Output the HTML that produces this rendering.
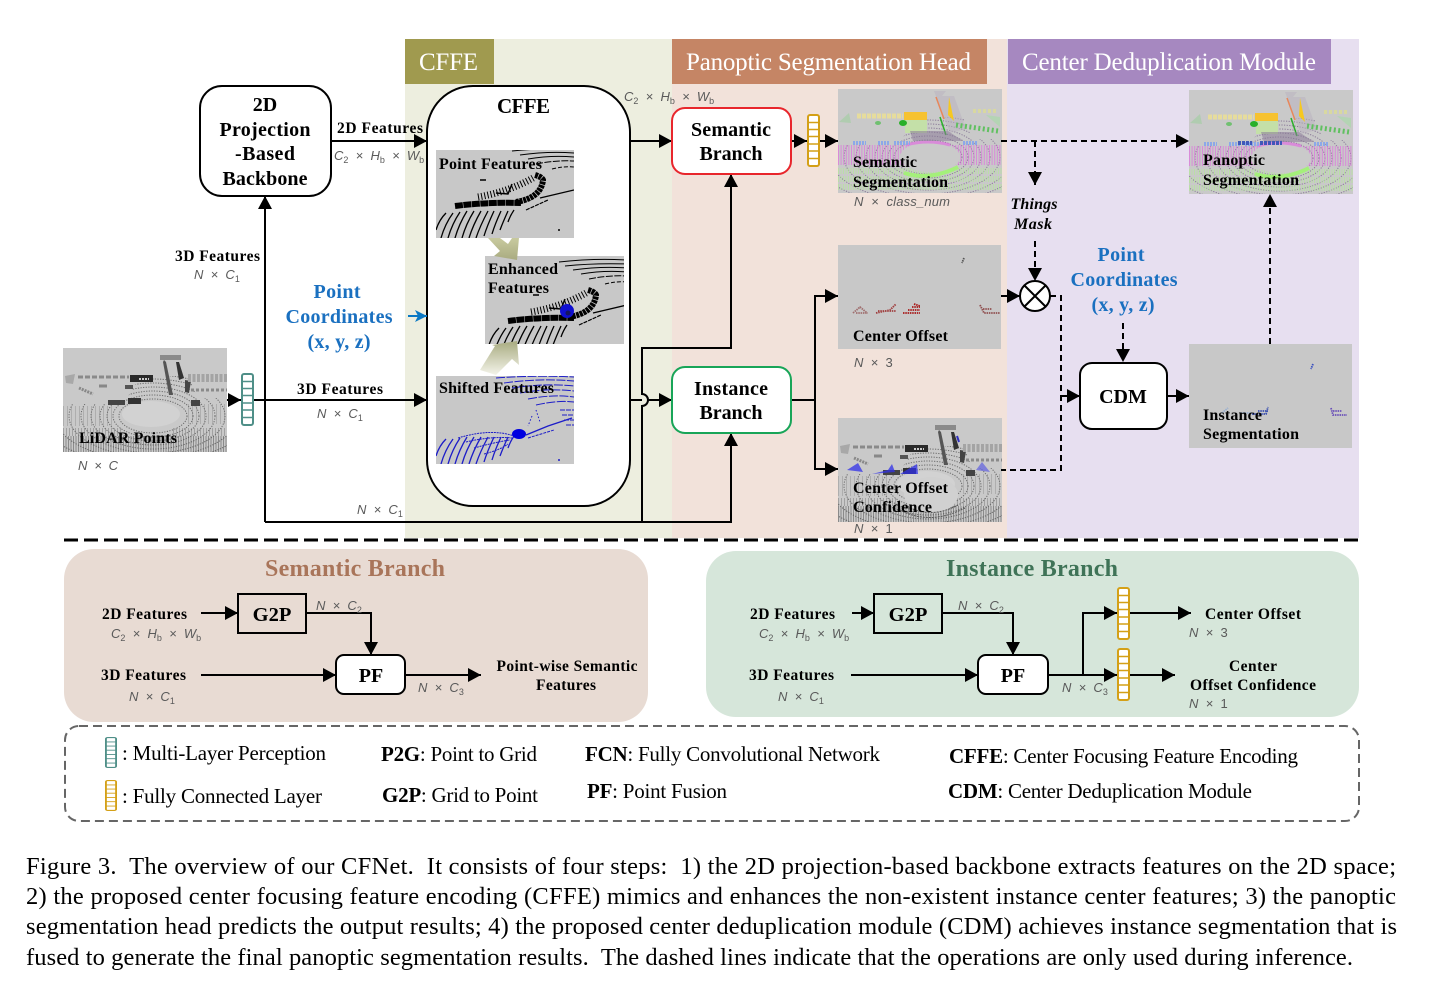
<!DOCTYPE html>
<html><head><meta charset="utf-8"><style>
html,body{margin:0;padding:0;background:#fff}
svg{display:block}
symbol{overflow:visible}
text{font-family:"Liberation Serif",serif;fill:#000}
.b{font-weight:bold}
.m{font-family:"Liberation Sans",sans-serif;font-style:italic;font-size:13px;fill:#5a5a5a}
.s{font-size:9px;font-style:normal}
.u{font-style:normal}
.l{stroke:#000;stroke-width:2;fill:none}
.d{stroke:#000;stroke-width:2;fill:none;stroke-dasharray:6 4}
.a{marker-end:url(#ar)}
.h{fill:#fff;font-size:25px}
.lg{font-size:21px}
.cap{font-size:24.5px}
.bl{font-weight:bold;font-size:20px;fill:#1a70c0}
</style></head><body>
<svg width="1441" height="1008" viewBox="0 0 1441 1008" xmlns="http://www.w3.org/2000/svg">
<defs>
<marker id="ar" markerUnits="userSpaceOnUse" markerWidth="15" markerHeight="15" refX="14" refY="7.5" orient="auto"><path d="M1,0.5L14,7.5L1,14.5Z" fill="#000"/></marker>
<marker id="ab" markerUnits="userSpaceOnUse" markerWidth="14" markerHeight="14" refX="13" refY="7" orient="auto"><path d="M1,1L13,7L1,13L4,7Z" fill="#0a78c4"/></marker>
<linearGradient id="gd" x1="0" y1="0" x2="0" y2="1"><stop offset="0" stop-color="#c8ca9f"/><stop offset="1" stop-color="#a9ab80"/></linearGradient>
<linearGradient id="gu" x1="0" y1="0" x2="0" y2="1"><stop offset="0" stop-color="#a8ab80"/><stop offset="1" stop-color="#f4f4ea"/></linearGradient>
<clipPath id="lc"><path d="M0,56H60L78,28H125L135,50H164V104H0Z"/></clipPath>
<symbol id="rings" viewBox="0 0 164 104" width="164" height="104">
<g clip-path="url(#lc)" fill="none" stroke="currentColor" stroke-width="1" stroke-dasharray="1.2 1.4">
<ellipse cx="90" cy="68" rx="34" ry="17"/><ellipse cx="90" cy="68" rx="40" ry="21"/><ellipse cx="90" cy="68" rx="46" ry="25"/><ellipse cx="90" cy="68" rx="53" ry="29"/><ellipse cx="90" cy="68" rx="62" ry="33"/><ellipse cx="90" cy="68" rx="72" ry="37"/><ellipse cx="90" cy="68" rx="84" ry="41"/><ellipse cx="90" cy="68" rx="98" ry="45"/><ellipse cx="90" cy="68" rx="114" ry="49"/><ellipse cx="90" cy="68" rx="132" ry="53"/>
</g>
</symbol>
<symbol id="lidar" viewBox="0 0 164 104" width="164" height="104">
<rect width="164" height="104" fill="#c9c9c9"/>
<use href="#rings" color="#6a6a6a"/>
<path d="M0,96H164" stroke="#555" stroke-width="16" stroke-dasharray="1 1.5" opacity=".55" fill="none"/>
<path d="M0,84H60M110,84H164" stroke="#666" stroke-width="8" stroke-dasharray="1 2" opacity=".4" fill="none"/>
<path d="M0,68H50M125,66H164" stroke="#7a7a7a" stroke-width="20" stroke-dasharray="1 3" opacity=".35" fill="none"/>
<ellipse cx="88" cy="66" rx="29" ry="13" fill="#d2d2d2"/>
<path d="M2,28L12,26L10,36L3,35Z" fill="#a8a8a8"/>
<path d="M15,29H66" stroke="#8a8a8a" stroke-width="3" stroke-dasharray="5 2" fill="none"/>
<path d="M67,27H90V34H67Z" fill="#2a2a2a"/><path d="M76,31H86" stroke="#ccc" stroke-width="2" stroke-dasharray="2 1"/>
<path d="M97,7H118V12H97Z" fill="#8a8a8a"/>
<path d="M101,12L103,14L110,47L106,47L100,14Z" fill="#555"/>
<path d="M113,14L116,14L121,30L116,32Z" fill="#333"/>
<path d="M122,32L128,33L126,45L122,44Z" fill="#444"/>
<path d="M125,30H164" stroke="#a4a4a4" stroke-width="8" stroke-dasharray="3 1.5" fill="none"/>
<path d="M128,42H164" stroke="#8a8a8a" stroke-width="3" stroke-dasharray="3 2" fill="none"/>
<path d="M62,37H70V41H62Z" fill="#555"/><path d="M45,52H62V57H45Z" fill="#444"/><path d="M65,50H78V56H65Z" fill="#333"/>
<path d="M128,52H137V58H128Z" fill="#444"/>
<path d="M16,40L30,46" stroke="#888" stroke-width="3" stroke-dasharray="2 1" fill="none"/>
<path d="M36,38H44" stroke="#888" stroke-width="3" fill="none"/>
</symbol>
<symbol id="sem" viewBox="0 0 164 104" width="164" height="104">
<rect width="164" height="104" fill="#c9c9c9"/>
<use href="#rings" color="#8a7a98"/>
<path d="M0,66H72M112,66H164" stroke="#e070e0" stroke-width="20" stroke-dasharray="1 1.6" opacity=".7" fill="none"/>
<path d="M0,82H164M0,90H164M0,98H164" stroke="#b4e898" stroke-width="6" stroke-dasharray="1 1.5" opacity=".7" fill="none"/>
<ellipse cx="92" cy="68" rx="30" ry="15" fill="#cacaca"/>
<path d="M66,84Q92,92 120,78" stroke="#a4f07a" stroke-width="4" fill="none"/>
<path d="M68,56Q90,50 112,56" stroke="#e070e0" stroke-width="3" fill="none" opacity=".7"/>
<path d="M19,27H65" stroke="#e6dc9c" stroke-width="5" stroke-dasharray="4 1" fill="none"/>
<path d="M66,23H89V31H66Z" fill="#f6c230"/>
<path d="M67,31H89V44H67Z" fill="#c4e0a8"/>
<ellipse cx="40" cy="34" rx="3" ry="2" fill="#70c070"/><ellipse cx="65" cy="34" rx="4" ry="3" fill="#28b028"/>
<path d="M96,2H108L104,7H116L128,40L112,44Z" fill="#bab2c0" opacity=".55"/>
<path d="M98,8L106,30" stroke="#e8875a" stroke-width="1.5" fill="none"/>
<path d="M111,8L116,32L110,26Z" fill="#f6c820"/>
<path d="M102,28L108,46" stroke="#2ab02a" stroke-width="1.5" fill="none"/>
<path d="M118,36L160,42" stroke="#60c060" stroke-width="5" stroke-dasharray="2 2.5" fill="none"/>
<path d="M135,22H158" stroke="#d8d8a0" stroke-width="4" stroke-dasharray="3 2" fill="none"/>
<path d="M1,33L11,24L13,34Z" fill="#b0ccb0"/>
<path d="M148,26L162,38V28Z" fill="#b4d4b4"/>
<path d="M72,42H110L125,52H75Z" fill="#8a7a98" opacity=".55"/>
<path d="M15,54H28M40,54H52M56,54H72M125,54H140" stroke="#8ca8e8" stroke-width="4" stroke-dasharray="2 1" fill="none"/>
</symbol>
<symbol id="hatch" viewBox="0 0 138 88" width="138" height="88">
<path fill="none" stroke="currentColor" stroke-width="1.3" d="M0,80q3,-10 10,-17M5,88q4,-14 12,-25M12,88q4,-14 12,-26M19,88q4,-14 12,-27M26,88q4,-14 12,-27M33,88q4,-13 12,-27M40,88q4,-12 12,-27M48,86q3,-10 10,-25M56,84q3,-10 9,-23M64,80q3,-8 8,-19M72,72q2,-6 6,-12"/>
</symbol>
<symbol id="feat" viewBox="0 0 138 88" width="138" height="88">
<use href="#hatch" color="#000"/>
<g fill="none" stroke="#000">
<path d="M76,1Q105,-2 138,-1M84,5Q112,1 138,3M92,9Q115,5 138,7" stroke-width="1"/>
<path d="M70,-3Q105,-7 138,-5" stroke-width="1"/>
<path d="M100,14Q120,10 138,11" stroke-width="1" stroke-dasharray="7 1.5"/>
<path d="M116,19Q128,16 138,17" stroke-width="1" stroke-dasharray="4 2"/>
<path d="M19,56Q50,52 85,53" stroke-width="6" stroke-dasharray="8 .5"/>
<path d="M80,52Q105,48 107,30Q106,27 99,25" stroke-width="6" stroke-dasharray="3 .7"/>
<path d="M42,47Q72,42 97,28" stroke-width="7" stroke-dasharray="1 2.2"/>
<path d="M60,43L72,44L76,34" stroke-width="1.5"/>
<path d="M104,48L138,40" stroke-width="1.3"/>
<path d="M90,60L112,50" stroke-width="1.2" stroke-dasharray="4 1"/>
<path d="M44,30H50" stroke-width="1.5"/>
<path d="M122,80H124" stroke-width="1.5"/>
</g>
</symbol>
<symbol id="fc" viewBox="0 0 13 53" preserveAspectRatio="none">
<rect x="1" y="1" width="11" height="51" rx="2" fill="#fff" stroke="currentColor" stroke-width="2"/>
<path d="M1,8.5H12M1,15.5H12M1,22.5H12M1,30H12M1,37H12M1,44.5H12" stroke="currentColor" stroke-width="1.5"/>
</symbol>
</defs>

<rect width="1441" height="1008" fill="#fff"/>
<!-- backgrounds -->
<rect x="405" y="39" width="267" height="499" fill="#edeedf"/>
<rect x="672" y="39" width="335" height="499" fill="#f2e2da"/>
<rect x="1007" y="39" width="352" height="499" fill="#e7dff0"/>
<rect x="405" y="39" width="89" height="45" fill="#a09a4f"/>
<rect x="672" y="39" width="315" height="45" fill="#c58565"/>
<rect x="1008" y="39" width="323" height="45" fill="#a688c0"/>
<text x="419" y="70" class="h" textLength="59">CFFE</text>
<text x="686" y="70" class="h" textLength="285">Panoptic Segmentation Head</text>
<text x="1022" y="70" class="h" textLength="294">Center Deduplication Module</text>

<!-- main boxes -->
<rect x="200" y="86" width="131" height="110" rx="22" fill="#fff" stroke="#000" stroke-width="2"/>
<text class="b" font-size="20" text-anchor="middle" x="265" y="111">2D</text>
<text class="b" font-size="20" text-anchor="middle" x="265" y="136" textLength="91">Projection</text>
<text class="b" font-size="20" text-anchor="middle" x="265" y="160" textLength="60">-Based</text>
<text class="b" font-size="20" text-anchor="middle" x="265" y="185" textLength="85">Backbone</text>

<rect x="427" y="86" width="203" height="420" rx="46" fill="#fff" stroke="#000" stroke-width="2"/>
<text class="b" font-size="21" x="497" y="113" textLength="53">CFFE</text>

<!-- lines -->
<path class="l a" d="M331,141H427"/>
<path class="l a" d="M630,141H672"/>
<path class="l a" d="M791,141H807"/>
<path class="l a" d="M820,141H838"/>
<path class="l a" d="M227,400H241"/>
<path class="l a" d="M254,400H427"/>
<path class="l a" d="M265,522V196"/>
<path class="l a" d="M265,522H731V433"/>
<path class="l a" d="M642,522V406A6,6 0 0 0 642,394V348H731V174"/>
<path class="l" d="M630,400H642"/>
<path class="l a" d="M648,400H672"/>
<path class="l" d="M791,400H815"/>
<path class="l a" d="M815,400V296H838"/>
<path class="l a" d="M815,400V469H838"/>
<path d="M408,316H427" stroke="#0a78c4" stroke-width="2" fill="none" marker-end="url(#ab)"/>

<!-- CFFE contents -->
<rect x="436" y="150" width="138" height="88" fill="#c8c8c8"/>
<svg x="436" y="150" width="138" height="88" viewBox="0 0 138 88"><use href="#feat"/></svg>
<rect x="485" y="256" width="139" height="88" fill="#c8c8c8"/>
<svg x="485" y="256" width="139" height="88" viewBox="0 0 139 88"><use href="#feat" x="4" y="9"/></svg>
<ellipse cx="567" cy="311" rx="7" ry="7" fill="#1010d0"/>
<ellipse cx="568" cy="313" rx="2.5" ry="2.5" fill="#151560"/>
<rect x="436" y="376" width="138" height="88" fill="#c8c8c8"/>
<svg x="436" y="376" width="138" height="88" viewBox="0 0 138 88">
<use href="#hatch" color="#1c1cc8"/>
<g fill="none" stroke="#1c1cc8" stroke-width="1">
<path d="M60,2Q100,-1 138,1M68,7Q105,2 138,5M76,12Q108,7 138,10M84,17Q112,12 138,15M92,23Q118,18 138,21M100,29Q122,24 138,26" stroke-dasharray="9 1.5"/>
<path d="M124,34H138M126,39H138M128,44H138M130,49H138" stroke-dasharray="5 1"/>
<path d="M22,62Q55,52 78,60M30,66Q55,60 76,62M38,72Q60,66 74,64M48,78Q64,74 72,68" stroke-dasharray="2 .8"/>
<path d="M90,59L112,50L136,42" stroke-width="1.3"/>
<path d="M92,62L118,54" stroke-dasharray="3 1"/>
<path d="M100,34L104,46M96,40L92,50" stroke-dasharray="1.5 2"/>
<path d="M122,84H124" stroke-width="1.5"/>
</g>
<ellipse cx="83" cy="58" rx="7" ry="5" fill="#0000e0"/>
</svg>
<path d="M488,238H500L508,244L512,238H519L517,260L494,256L500,251Z" fill="url(#gd)"/>
<path d="M480,370L495,346L492,345L517,341L519,365L512,359L496,375Z" fill="url(#gu)"/>
<text class="b" font-size="16" x="439" y="169" textLength="103">Point Features</text>
<text class="b" font-size="16" x="488" y="274" textLength="70">Enhanced</text>
<text class="b" font-size="16" x="488" y="293" textLength="61">Features</text>
<text class="b" font-size="16" x="439" y="393" textLength="115">Shifted Features</text>

<!-- Lidar -->
<use href="#lidar" x="63" y="348"/>
<text class="b" font-size="16" x="79" y="443" textLength="98">LiDAR Points</text>
<text class="m" x="78" y="470" textLength="40">N × C</text>
<use href="#fc" x="241" y="373" width="13" height="53" color="#4f8f88"/>

<!-- labels left -->
<text class="b" font-size="15.5" x="337" y="133" textLength="86">2D Features</text>
<text class="m" x="334" y="160">C<tspan class="s" dy="3">2</tspan><tspan dy="-3">&#160;&#160;×&#160;&#160;H</tspan><tspan class="s" dy="3">b</tspan><tspan dy="-3">&#160;&#160;×&#160;&#160;W</tspan><tspan class="s" dy="3">b</tspan></text>
<text class="m" x="624" y="101">C<tspan class="s" dy="3">2</tspan><tspan dy="-3">&#160;&#160;×&#160;&#160;H</tspan><tspan class="s" dy="3">b</tspan><tspan dy="-3">&#160;&#160;×&#160;&#160;W</tspan><tspan class="s" dy="3">b</tspan></text>
<text class="b" font-size="15.5" x="175" y="261" textLength="85">3D Features</text>
<text class="m" x="194" y="279">N&#160;&#160;×&#160;&#160;C<tspan class="s" dy="3">1</tspan></text>
<text class="b" font-size="15.5" x="297" y="394" textLength="86">3D Features</text>
<text class="m" x="317" y="418">N&#160;&#160;×&#160;&#160;C<tspan class="s" dy="3">1</tspan></text>
<text class="m" x="357" y="514">N&#160;&#160;×&#160;&#160;C<tspan class="s" dy="3">1</tspan></text>
<text class="bl" x="337" y="298" text-anchor="middle" textLength="47">Point</text>
<text class="bl" x="339" y="323" text-anchor="middle" textLength="107">Coordinates</text>
<text class="bl" x="339" y="348" text-anchor="middle" textLength="63">(x, y, z)</text>
<text class="bl" x="1121" y="261" text-anchor="middle" textLength="47">Point</text>
<text class="bl" x="1124" y="286" text-anchor="middle" textLength="107">Coordinates</text>
<text class="bl" x="1123" y="311" text-anchor="middle" textLength="63">(x, y, z)</text>

<!-- head boxes -->
<rect x="672" y="108" width="119" height="66" rx="13" fill="#fff" stroke="#e8262c" stroke-width="2"/>
<text class="b" font-size="20" x="731" y="136" text-anchor="middle" textLength="80">Semantic</text>
<text class="b" font-size="20" x="731" y="160" text-anchor="middle" textLength="63">Branch</text>
<rect x="672" y="367" width="119" height="66" rx="13" fill="#fff" stroke="#18a558" stroke-width="2"/>
<text class="b" font-size="20" x="731" y="395" text-anchor="middle" textLength="74">Instance</text>
<text class="b" font-size="20" x="731" y="419" text-anchor="middle" textLength="63">Branch</text>
<use href="#fc" x="807" y="114" width="13" height="53" color="#d4a017"/>

<!-- semantic image -->
<use href="#sem" x="838" y="89"/>
<text class="b" font-size="16" x="853" y="167" textLength="64">Semantic</text>
<text class="b" font-size="16" x="853" y="187" textLength="95">Segmentation</text>
<text class="m" x="854" y="206" textLength="96">N&#160;&#160;×&#160;&#160;class_num</text>

<!-- center offset -->
<rect x="838" y="245" width="163" height="104" fill="#c8c8c8"/>
<g fill="none" stroke-width="1.8" stroke-dasharray="1.5 .8">
<path d="M853,313L860,307L867,313M856,313H868" stroke="#a07070"/>
<path d="M876,313L890,310L896,304M878,311H896" stroke="#a04040"/>
<path d="M903,313H920M908,310H920M912,307H920M914,304L920,306" stroke="#a81818"/>
<path d="M980,305L984,313H1000M983,309H992" stroke="#905050"/>
<path d="M964,258L962,263" stroke="#555"/>
</g>
<text class="b" font-size="16" x="853" y="341" textLength="95">Center Offset</text>
<text class="m" x="854" y="367">N&#160;&#160;×&#160;&#160;<tspan class="u">3</tspan></text>

<!-- confidence -->
<use href="#lidar" x="838" y="418"/>
<ellipse cx="931" cy="495" rx="27" ry="18" fill="#d0d0d0"/>
<g fill="none" stroke="#555" stroke-width="1" stroke-dasharray="2 1">
<path d="M905,505Q930,520 958,505M900,510Q930,526 965,508"/>
</g>
<path d="M847,470L858,463L863,472ZM872,474L888,470L892,464L895,472ZM900,474H918L917,464L910,468Z" fill="#3030e8" opacity=".75"/>
<path d="M976,470L982,462L990,472Z" fill="#6060e0" opacity=".7"/>
<path d="M957,436L959,442" stroke="#3030c0" stroke-width="2"/>
<text class="b" font-size="16" x="853" y="493" textLength="95">Center Offset</text>
<text class="b" font-size="16" x="853" y="512" textLength="79">Confidence</text>
<text class="m" x="854" y="533">N&#160;&#160;×&#160;&#160;<tspan class="u">1</tspan></text>

<!-- dashed -->
<path class="d a" d="M1001,141H1189"/>
<path class="d a" d="M1035,141V185"/>
<text class="b" font-size="16" font-style="italic" x="1034" y="209" text-anchor="middle" textLength="47">Things</text>
<text class="b" font-size="16" font-style="italic" x="1033" y="229" text-anchor="middle" textLength="38">Mask</text>
<path class="d a" d="M1035,241V281"/>
<path class="l a" d="M1001,296H1020"/>
<circle cx="1035" cy="296" r="15" fill="#fff" stroke="#000" stroke-width="2"/>
<path d="M1024,285L1046,307M1046,285L1024,307" stroke="#000" stroke-width="2"/>
<path class="d" d="M1050,296H1061V470H1001"/>
<path class="l a" d="M1061,396H1080"/>
<path class="d a" d="M1123,323V362"/>
<rect x="1080" y="363" width="87" height="66" rx="12" fill="#fff" stroke="#000" stroke-width="2"/>
<text class="b" font-size="20" x="1123" y="403" text-anchor="middle">CDM</text>
<path class="l a" d="M1167,396H1189"/>
<path class="d a" d="M1270,344V194"/>

<!-- panoptic -->
<use href="#sem" x="1189" y="90"/>
<path d="M1238,143H1252M1260,143H1282" stroke="#4058b8" stroke-width="4" stroke-dasharray="3 1" fill="none"/>
<text class="b" font-size="16" x="1203" y="165" textLength="62">Panoptic</text>
<text class="b" font-size="16" x="1203" y="185" textLength="96">Segmentation</text>

<!-- instance seg -->
<rect x="1189" y="344" width="163" height="104" fill="#c8c8c8"/>
<g fill="none" stroke-width="1.8" stroke-dasharray="1.5 .8">
<path d="M1222,413L1228,408M1240,413H1252" stroke="#9ab0d0"/>
<path d="M1252,414H1266L1268,407M1258,411H1268" stroke="#3a50b0"/>
<path d="M1331,408L1333,415H1347M1333,411H1342" stroke="#6a50b8"/>
<path d="M1313,364L1311,369" stroke="#3a50c0"/>
</g>
<text class="b" font-size="16" x="1203" y="420" textLength="59">Instance</text>
<text class="b" font-size="16" x="1203" y="439" textLength="96">Segmentation</text>

<!-- separator -->
<path d="M64,540H1359" stroke="#000" stroke-width="3" stroke-dasharray="14 6"/>

<!-- Semantic branch -->
<rect x="64" y="549" width="584" height="173" rx="30" fill="#e8dbd3"/>
<text class="b" font-size="24" style="fill:#a9755a" x="355" y="576" text-anchor="middle" textLength="180">Semantic Branch</text>
<rect x="238" y="594" width="68" height="39" fill="none" stroke="#000" stroke-width="2"/>
<text class="b" font-size="20.5" x="272" y="621" text-anchor="middle">G2P</text>
<rect x="336" y="655" width="69" height="39" rx="8" fill="#fff" stroke="#000" stroke-width="2"/>
<text class="b" font-size="20" x="371" y="682" text-anchor="middle">PF</text>
<path class="l a" d="M201,613H238"/>
<path class="l a" d="M306,613H371V655"/>
<path class="l a" d="M201,675H336"/>
<path class="l a" d="M405,675H481"/>
<text class="b" font-size="15.5" x="102" y="619" textLength="85">2D Features</text>
<text class="b" font-size="15.5" x="101" y="680" textLength="85">3D Features</text>
<text class="m" x="111" y="638">C<tspan class="s" dy="3">2</tspan><tspan dy="-3">&#160;&#160;×&#160;&#160;H</tspan><tspan class="s" dy="3">b</tspan><tspan dy="-3">&#160;&#160;×&#160;&#160;W</tspan><tspan class="s" dy="3">b</tspan></text>
<text class="m" x="129" y="701">N&#160;&#160;×&#160;&#160;C<tspan class="s" dy="3">1</tspan></text>
<text class="m" x="316" y="610">N&#160;&#160;×&#160;&#160;C<tspan class="s" dy="3">2</tspan></text>
<text class="m" x="418" y="692">N&#160;&#160;×&#160;&#160;C<tspan class="s" dy="3">3</tspan></text>
<text class="b" font-size="15.5" x="567" y="671" text-anchor="middle" textLength="141">Point-wise Semantic</text>
<text class="b" font-size="15.5" x="566" y="690" text-anchor="middle" textLength="60">Features</text>

<!-- Instance branch -->
<rect x="706" y="551" width="653" height="166" rx="30" fill="#d6e6da"/>
<text class="b" font-size="24" style="fill:#3f7357" x="1032" y="576" text-anchor="middle" textLength="172">Instance Branch</text>
<rect x="874" y="594" width="68" height="39" fill="none" stroke="#000" stroke-width="2"/>
<text class="b" font-size="20.5" x="908" y="621" text-anchor="middle">G2P</text>
<rect x="978" y="655" width="70" height="39" rx="8" fill="#fff" stroke="#000" stroke-width="2"/>
<text class="b" font-size="20" x="1013" y="682" text-anchor="middle">PF</text>
<path class="l a" d="M852,613H874"/>
<path class="l a" d="M942,613H1013V655"/>
<path class="l a" d="M851,675H978"/>
<path class="l a" d="M1048,675H1117"/>
<path class="l a" d="M1083,675V613H1117"/>
<path class="l a" d="M1130,613H1191"/>
<path class="l a" d="M1130,675H1175"/>
<use href="#fc" x="1117" y="587" width="13" height="53" color="#d4a017"/>
<use href="#fc" x="1117" y="648" width="13" height="53" color="#d4a017"/>
<text class="b" font-size="15.5" x="750" y="619" textLength="85">2D Features</text>
<text class="b" font-size="15.5" x="749" y="680" textLength="85">3D Features</text>
<text class="m" x="759" y="638">C<tspan class="s" dy="3">2</tspan><tspan dy="-3">&#160;&#160;×&#160;&#160;H</tspan><tspan class="s" dy="3">b</tspan><tspan dy="-3">&#160;&#160;×&#160;&#160;W</tspan><tspan class="s" dy="3">b</tspan></text>
<text class="m" x="778" y="701">N&#160;&#160;×&#160;&#160;C<tspan class="s" dy="3">1</tspan></text>
<text class="m" x="958" y="610">N&#160;&#160;×&#160;&#160;C<tspan class="s" dy="3">2</tspan></text>
<text class="m" x="1062" y="692">N&#160;&#160;×&#160;&#160;C<tspan class="s" dy="3">3</tspan></text>
<text class="b" font-size="15.5" x="1205" y="619" textLength="96">Center Offset</text>
<text class="m" x="1189" y="637">N&#160;&#160;×&#160;&#160;<tspan class="u">3</tspan></text>
<text class="b" font-size="15.5" x="1253" y="671" text-anchor="middle" textLength="48">Center</text>
<text class="b" font-size="15.5" x="1253" y="690" text-anchor="middle" textLength="126">Offset Confidence</text>
<text class="m" x="1189" y="708">N&#160;&#160;×&#160;&#160;<tspan class="u">1</tspan></text>

<!-- Legend -->
<rect x="65" y="726" width="1294" height="95" rx="14" fill="none" stroke="#666" stroke-width="2" stroke-dasharray="9 5"/>
<use href="#fc" x="105" y="737" width="12" height="31" color="#4f8f88"/>
<use href="#fc" x="105" y="780" width="12" height="31" color="#d4a017"/>
<text class="lg" x="122" y="760" textLength="204">: Multi-Layer Perception</text>
<text class="lg" x="122" y="803" textLength="200">: Fully Connected Layer</text>
<text class="lg" x="381" y="761" textLength="156"><tspan class="b">P2G</tspan>: Point to Grid</text>
<text class="lg" x="382" y="802" textLength="156"><tspan class="b">G2P</tspan>: Grid to Point</text>
<text class="lg" x="585" y="761" textLength="295"><tspan class="b">FCN</tspan>: Fully Convolutional Network</text>
<text class="lg" x="587" y="798" textLength="140"><tspan class="b">PF</tspan>: Point Fusion</text>
<text class="lg" x="949" y="763" textLength="349"><tspan class="b">CFFE</tspan>: Center Focusing Feature Encoding</text>
<text class="lg" x="948" y="798" textLength="304"><tspan class="b">CDM</tspan>: Center Deduplication Module</text>

<!-- caption -->
<text class="cap" x="26" y="874" textLength="1370">Figure 3.&#160; The overview of our CFNet.&#160; It consists of four steps:&#160; 1) the 2D projection-based backbone extracts features on the 2D space;</text>
<text class="cap" x="26" y="904" textLength="1370">2) the proposed center focusing feature encoding (CFFE) mimics and enhances the non-existent instance center features; 3) the panoptic</text>
<text class="cap" x="26" y="934" textLength="1371">segmentation head predicts the output results; 4) the proposed center deduplication module (CDM) achieves instance segmentation that is</text>
<text class="cap" x="26" y="965" textLength="1327">fused to generate the final panoptic segmentation results.&#160; The dashed lines indicate that the operations are only used during inference.</text>
</svg>
</body></html>
